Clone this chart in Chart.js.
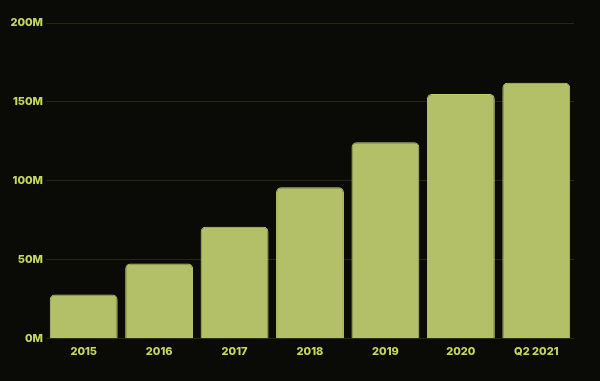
<!DOCTYPE html>
<html>
<head>
<meta charset="utf-8">
<script src="https://cdn.jsdelivr.net/npm/chart.js@4"></script>
<style>
  html, body { margin: 0; padding: 0; background: #0a0a06; }
  #wrap { width: 600px; height: 381px; position: relative; }
</style>
</head>
<body>
<div id="wrap"><canvas id="chart"></canvas></div>
<script>
// Valores (milhões)
const categories = ["2015", "2016", "2017", "2018", "2019", "2020", "Q2 2021"]
const values = [28, 47.7, 71, 95.9, 124.4, 155.1, 162.1]
const yTicks = [0, 50, 100, 150, 200]

const labelColor = "#c6d85c"
const barColor = "#b4c067"

new Chart(document.getElementById("chart"), {
  type: "bar",
  data: {
    labels: categories,
    datasets: [{
      data: values,
      backgroundColor: barColor,
      borderColor: "#c2ce74",
      borderWidth: 1,
      borderSkipped: "start",
      borderRadius: 5,
      barPercentage: 0.9,
      categoryPercentage: 1
    }]
  },
  options: {
    responsive: true,
    maintainAspectRatio: false,
    animation: false,
    layout: { padding: { top: 23, right: 26, bottom: 17, left: 0 } },
    plugins: { legend: { display: false }, tooltip: { enabled: false } },
    scales: {
      x: {
        grid: { display: false, drawTicks: false },
        border: { display: false },
        ticks: { color: labelColor, padding: 6, font: { family: "Inter", size: 11, weight: 800 } }
      },
      y: {
        min: 0,
        max: 200,
        afterFit: (axis) => { axis.width = 46 },
        afterBuildTicks: (axis) => { axis.ticks = yTicks.map((v) => ({ value: v })) },
        grid: { color: "rgba(200,220,90,0.14)", drawTicks: false, lineWidth: 1 },
        border: { display: false },
        ticks: {
          color: labelColor,
          padding: 3,
          font: { family: "Inter", size: 11, weight: 800 },
          callback: (v) => v + "M"
        }
      }
    }
  }
})
</script>
</body>
</html>
